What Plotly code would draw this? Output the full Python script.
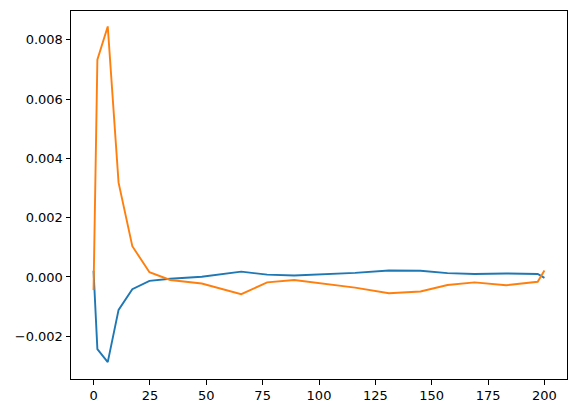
import plotly.graph_objects as go

# sample positions (irregularly spaced)
steps = [0, 1.7, 6.3, 11.1, 17.2, 24.8, 34, 48, 65.5, 77, 89, 116, 131, 145, 157, 169, 183, 197, 200]

series_a = [0.00021, -0.00243, -0.00287, -0.00111, -0.00041, -0.00013, -0.00006, 0.00001, 0.00018,
            0.00008, 0.00005, 0.00014, 0.00022, 0.00021, 0.00013, 0.00010, 0.00012, 0.00010, -0.00003]
series_b = [-0.00044, 0.00733, 0.00845, 0.00318, 0.00104, 0.00016, -0.00010, -0.00022, -0.00058,
            -0.00018, -0.00010, -0.00036, -0.00055, -0.00049, -0.00027, -0.00018, -0.00028, -0.00016, 0.00022]

x_ticks = [0, 25, 50, 75, 100, 125, 150, 175, 200]
y_ticks = [-0.002, 0.0, 0.002, 0.004, 0.006, 0.008]

fig = go.Figure()
fig.add_trace(go.Scatter(x=steps, y=series_a, mode="lines",
                         line=dict(color="#1f77b4", width=1.9)))
fig.add_trace(go.Scatter(x=steps, y=series_b, mode="lines",
                         line=dict(color="#ff7f0e", width=1.9)))

axis_style = dict(
    showline=True, linecolor="black", linewidth=1, mirror=True,
    ticks="outside", ticklen=4.5, tickcolor="black", tickwidth=1,
    showgrid=False, zeroline=False,
    tickfont=dict(family="DejaVu Sans", size=13, color="black"),
)

fig.update_xaxes(range=[-10, 210], tickvals=x_ticks, **axis_style)
fig.update_yaxes(range=[-0.00344, 0.00897], tickvals=y_ticks, tickformat=".3f", **axis_style)

fig.update_layout(
    width=576, height=413,
    margin=dict(l=71, r=9, t=11, b=34),
    paper_bgcolor="white", plot_bgcolor="white",
    showlegend=False,
)

# drop the default 8px body margin so the figure sits flush in the window
fig.write_html("out.html", config={"displayModeBar": False},
               post_script="document.body.style.margin='0';")
